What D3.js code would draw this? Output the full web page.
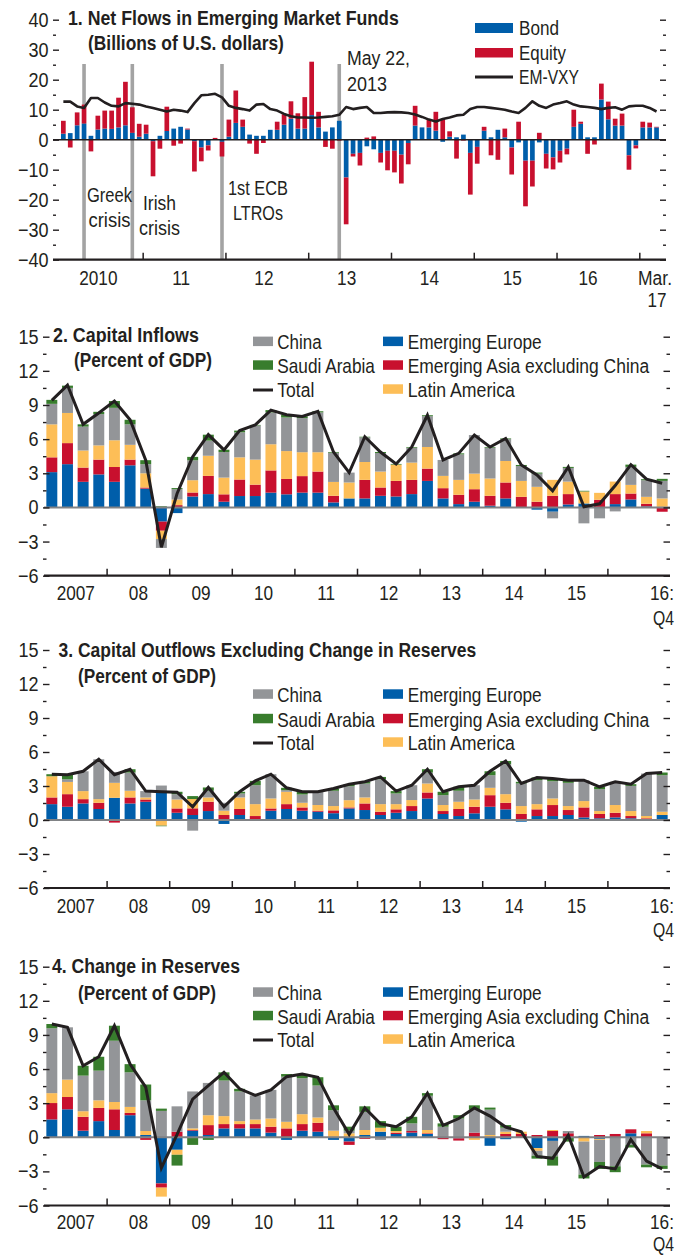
<!DOCTYPE html>
<html>
<head>
<meta charset="utf-8">
<script src="https://cdn.jsdelivr.net/npm/d3@7/dist/d3.min.js"></script>
<style>
html,body{margin:0;padding:0;background:#fff;}
svg{display:block;}
text{font-family:"Liberation Sans",Arial,Helvetica,sans-serif;fill:#231f20;}
</style>
</head>
<body>
<svg id="chart" width="683" height="1255" viewBox="0 0 683 1255"></svg>
<script>
// ================= DATA =================
// Panel 1: monthly flows, Jan 2010 - Mar 2017 (billions of U.S. dollars)
const fundMonths = d3.timeMonth.range(new Date(2010,0,1), new Date(2017,3,1)).map(d3.timeFormat("%Y-%m"));
const bondFlows = [2.0,2.2,4.8,5.4,1.3,3.4,3.7,3.6,4.1,4.8, 2.3,1.0,2.0,-0.5,1.3,2.9,3.7,4.3,3.4,-0.5,
  -2.6,-1.9,0,-0.7,1.0,5.6,4.3,1.7,1.3,1.3, 3.3,3.3,5.0,7.0,3.7,3.7,8.2,4.1,2.7,4.1,
  6.3,-12.6,-4.7,-4.4,-2.2,-3.2,-4.4,-3.7,-3.7,-5.0, -1.1,4.7,4.1,4.1,3.0,-0.7,1.0,0.8,1.7,-4.4,
  -2.4,3.0,0.8,3.3,0.8,-2.6,-0.9,-7.0,-7.0,-0.9, -4.7,-5.9,-3.7,-3.0,4.3,5.3,0.8,0.8,13.4,6.8,
  4.7,4.7,-5.2,-1.9,4.1,4.1,4.1];
const equityFlows = [4.3,-2.6,4.3,6.3,-3.9,4.6,6.0,6.1,9.9,14.5, 8.5,4.3,3.0,-11.7,-3.0,8.1,-2.0,-1.3,0.3,-10.1,
  -4.6,-1.7,0.6,-4.9,5.7,10.8,2.4,-1.3,-4.7,-1.1, 0,2.7,3.5,5.8,5.1,10.5,17.8,5.2,-2.4,-3.0,
  -0.3,-15.6,-0.9,-4.2,0.7,1.1,-3.2,-6.5,-7.2,-9.6, -7.1,6.6,0,2.8,6.3,6.9,1.8,-6.3,-0.3,-13.9,
  -5.6,1.3,-5.2,-6.7,2.9,-9.0,6.0,-15.2,-8.6,2.3, -4.9,-4.0,-3.9,-1.9,5.7,0.7,-4.7,-1.6,5.3,5.9,
  2.3,4.0,-4.8,-1.0,1.9,1.6,0.2];
const emVxy = [12.7,12.7,11.1,10.6,13.9,13.9,12.4,11.3,11.1,12.2, 12.0,11.7,11.1,10.6,10.0,9.4,10.0,9.7,9.2,12.2,
  14.8,15.0,15.3,14.1,11.3,10.6,10.2,9.7,11.7,11.9, 10.2,9.7,8.6,7.8,7.4,7.4,7.3,7.4,7.6,7.8,
  8.3,10.9,10.2,10.6,10.9,8.9,8.9,9.1,9.2,9.1, 8.9,8.4,7.6,6.7,6.1,6.9,7.4,8.1,8.3,10.2,
  10.9,10.9,10.6,10.3,10.0,9.4,8.9,10.6,12.8,11.3, 10.6,11.7,12.2,12.8,11.7,11.1,10.9,10.6,10.2,10.6,
  10.8,10.0,11.1,11.3,11.3,10.6,9.4];
const eventMonths = ["2010-04","2010-11","2011-12","2013-05"];
const eventLabels = [["Greek","crisis"],["Irish","crisis"],["1st ECB","LTROs"],["May 22,","2013"]];
const fundYearLabels = ["2010","11","12","13","14","15","16"];
const fundEndLabels = ["Mar.","17"];
const fundMajorTicks = [-40,-30,-20,-10,0,10,20,30,40];
const fundMinorTicks = [-35,-25,-15,-5,5,15,25,35];
const fundLegend = ["Bond","Equity","EM-VXY"];

// Panels 2-4: quarterly, 2007:Q1 - 2016:Q4 (percent of GDP)
const quarters = d3.range(2007,2017).flatMap(y => [1,2,3,4].map(q => y + "Q" + q));
const quarterYearLabels = ["2007","08","09","10","11","12","13","14","15"];
const quarterEndLabels = ["16:","Q4"];
const pctMajorTicks = [-6,-3,0,3,6,9,12,15];
const pctMinorTicks = [-4.5,-1.5,1.5,4.5,7.5,10.5,13.5];
const regionKeys = ["Emerging Europe","Emerging Asia excluding China","Latin America","China","Saudi Arabia"];

// 2. Capital inflows
const inflowsEurope = [3.1,3.8,2.25,2.9,2.25,3.7,1.65,-1.25,-0.5,0.96, 1.17,0.5,1.0,1.0,1.3,1.15,1.3,1.3,0.44,0.79,
  0.79,1.02,0.96,1.17,2.33,0.79,0.29,0.5,0.15,0.79, 0,-0.2,-0.38,0.26,0.35,0,0.29,0.7,0.09,0.05];
const inflowsAsia = [1.3,1.85,1.25,1.3,1.3,0.5,0.1,-0.8,0.2,0.35, 1.6,0.65,1.45,1.0,1.95,1.35,1.45,1.85,0.58,0,
  1.63,0.73,1.37,1.25,1.08,0.9,0.82,1.1,0.87,1.4, 0.93,0.5,1.02,0.91,0,0.67,0.88,0.52,0.23,-0.38];
const inflowsLatam = [2.9,2.65,1.5,1.25,2.35,1.3,1.25,-0.73,0.5,1.08, 1.77,1.47,1.95,2.2,2.3,2.45,2.1,1.7,1.22,1.4,
  1.57,1.4,1.43,1.52,1.9,1.08,1.31,1.37,1.52,1.89, 1.4,1.31,1.4,1.1,1.05,0.61,1.1,0.76,0.61,0.74];
const inflowsChina = [1.8,2.2,2.1,2.75,2.85,1.8,0.8,-0.78,0.9,1.75, 1.33,2.25,2.2,3.0,2.8,2.95,3.0,3.5,2.57,0.87,
  2.17,1.63,0,1.31,2.71,1.4,2.24,3.39,2.71,1.92, 1.31,1.16,-0.58,1.2,-1.4,-0.96,-0.35,1.58,1.46,1.54];
const inflowsSaudi = [0.35,0.2,0.2,0.2,0.6,0.4,0.35,0.1,0.1,0.3, 0.52,0.2,0.15,0.05,0.2,0.25,0.15,0.1,0.06,0,
  0.05,0.09,0.06,0.06,0.08,0,0.09,0,0.06,0.06, 0.09,0.09,0,0.09,0.06,0,0,0.2,0.09,0.18];
const inflowsTotal = [9.4,10.75,7.3,8.3,9.35,7.7,4.15,-3.5,1.2,4.45, 6.4,5.05,6.75,7.25,8.55,8.15,8.0,8.45,4.87,3.06,
  6.21,4.87,3.82,5.31,8.1,4.17,4.75,6.36,5.31,6.06, 3.73,2.86,1.46,3.56,0.06,0.32,1.92,3.76,2.48,2.13];

// 3. Capital outflows excluding change in reserves
const outflowsEurope = [1.4,1.17,1.46,0.97,1.96,1.46,1.61,2.49,0.64,0.44, 0.79,-0.35,0.44,0.06,0.82,0.97,0.82,0.73,0.6,1.02,
  0.88,0.44,0.64,0.79,1.9,0.53,0.35,0.59,1.17,0.94, -0.15,0.35,0.35,0.44,0.23,0.15,0.23,0.15,0.05,0.44];
const outflowsAsia = [0.59,1.11,0.38,0.55,-0.23,0.53,0.2,0,0.38,0.59, 0.82,0.44,0.53,0.29,0.2,0.43,0.29,0.09,0.25,0.09,
  0.58,0.29,0.3,0.44,0.53,0.26,0.62,0.58,1.02,0.58, 0.53,0.59,0.97,0.44,0.88,0.38,0.41,0.2,0.1,0];
const outflowsLatam = [1.87,1.08,0.71,0.32,1.32,0.59,0.18,-0.5,0.79,0.82, 0.38,0.38,1.02,1.05,0.88,1.09,0.41,0.5,0.38,0.64,
  0.53,0.67,0.46,0.53,0.79,0.53,0.64,0.64,0.65,0.76, 0.7,0.46,0.58,0.35,0.56,0.26,0.68,0.44,0.2,0.29];
const outflowsChina = [0,0.23,1.75,3.52,0.96,1.61,0.56,0.55,0.47,-0.94, 0.59,0.7,0.35,1.67,2.14,0.14,0.73,1.17,1.35,1.23,
  1.23,2.2,0.94,1.31,0.97,0.87,0.97,1.26,1.11,2.64, 1.99,2.11,1.52,2.05,1.84,1.93,2.05,2.22,3.75,3.22];
const outflowsSaudi = [0.18,0.41,0,0,0,0.29,0,-0.05,0.21,0.26, 0.29,0,0.15,0.38,0,0.21,0.24,0,0.2,0.17,
  0.15,0.2,0.21,0,0.29,0.3,0.35,0,0.35,0.29, 0.15,0.24,0.24,0.23,0,0.21,0,0.15,0,0.24];
const outflowsTotal = [4.04,4.0,4.3,5.36,4.0,4.48,2.55,2.5,2.45,1.17, 2.87,1.17,2.49,3.45,4.04,2.84,2.49,2.49,2.78,3.16,
  3.37,3.8,2.55,3.07,4.48,2.49,2.93,3.07,4.3,5.21, 3.22,3.75,3.66,3.51,3.51,2.93,3.37,3.16,4.1,4.19];

// 4. Change in reserves
const reservesEurope = [1.57,2.46,0.58,1.42,0.64,1.94,0.2,-4.06,-1.1,0.58, 0.2,0.78,0.78,0.78,0.41,-0.23,0.58,0.49,-0.23,-0.38,
  0.2,0.49,0.29,0.41,0.29,0,-0.09,0,-0.75,-0.17, 0,-0.96,-0.32,0,0.12,-0.14,0,0.35,0,0];
const reservesAsia = [1.44,1.08,1.22,1.16,1.82,0.2,-0.23,-0.37,0.49,0.06, 0.87,0.38,0.38,0.38,0.52,0.78,0.58,0.79,0,-0.29,
  -0.14,0,0.12,0.14,0.06,-0.17,-0.2,0.41,0,0.29, 0.29,0.2,0.55,0.35,0,0.2,0.29,0.35,0.35,0];
const reservesLatam = [0.87,1.53,0.49,0.67,0.64,0.53,0.35,-0.79,-0.44,0.14, 0.87,0.7,0.26,0.4,0.72,0.58,0.87,0.46,0.58,0.35,
  0.44,0.35,0.14,0,0.29,0,0,-0.23,0.2,0.2, 0.2,-0.23,0.09,0,-0.38,-0.09,0,0,0.2,0];
const reservesChina = [5.7,4.6,3.13,2.61,5.39,3.04,2.7,2.32,2.23,3.25, 2.84,3.13,2.61,2.12,2.52,3.97,3.16,2.81,1.8,0.23,
  1.59,-0.23,0,0.67,3.01,0.93,1.65,2.02,2.23,0.35, 0,-0.43,-1.36,0.2,-2.9,-1.94,-2.55,-0.67,-2.4,-2.49];
const reservesSaudi = [0.38,0,0.87,1.22,1.32,0.72,1.39,0.2,-0.95,-0.67, -0.23,0.72,0.23,0,0,0.23,0.38,0.73,0.43,0.35,
  0.49,0.58,0.38,0.58,0.23,0.29,0.29,0.38,0.18,0.23, 0,-0.26,-0.81,-0.38,-0.34,-0.61,-0.52,-0.23,-0.24,-0.29];
const reservesTotal = [9.96,9.67,6.29,7.08,9.81,6.43,4.41,-2.7,0.23,3.36, 4.55,5.71,4.26,3.68,4.17,5.33,5.57,5.28,2.58,0.26,
  2.58,1.19,0.93,1.8,3.88,1.05,1.65,2.58,1.86,0.9, 0.49,-1.68,-1.85,0.17,-3.5,-2.58,-2.78,-0.2,-2.09,-2.78];

// ================= STYLE =================
const INK = "#231f20";
const colors = {
  "Bond": "#005eaa", "Equity": "#c8102e",
  "Emerging Europe": "#005eaa", "Emerging Asia excluding China": "#c8102e",
  "Latin America": "#fdbe57", "China": "#939598", "Saudi Arabia": "#387d2d"
};

const svg = d3.select("#chart");

function label(parent, str, x, y, o) {
  o = o || {};
  const g = parent.append("g");
  const t = g.append("text").text(str)
    .attr("font-size", o.size || 21)
    .attr("font-weight", o.bold ? "bold" : "normal")
    .attr("text-anchor", o.anchor || "start");
  let sx = o.sx || (o.bold ? 0.84 : 0.82);
  if (o.width) {
    const w = t.node().getComputedTextLength();
    if (w > 0) sx = o.width / w;
  }
  g.attr("transform", `translate(${x},${y}) scale(${sx},1)`);
  return g;
}

function styleAxisText(g, size, sx) {
  g.attr("font-size", null).attr("font-family", null);
  g.selectAll("text").attr("font-size", size).attr("fill", INK)
    .attr("transform", `scale(${sx},1)`);
}

function yAxes(y, left, right, minorVals, majorVals, labelX, majorLen, minorLen) {
  const g = svg.append("g");
  [[minorVals, minorLen], [majorVals, majorLen]].forEach(([vals, len]) => {
    const a = g.append("g").attr("transform", `translate(${left},0)`)
      .call(d3.axisRight(y).tickValues(vals).tickSize(len).tickFormat(""));
    a.select(".domain").remove();
    a.selectAll("line").attr("stroke", INK).attr("stroke-width", 1.4);
    const b = g.append("g").attr("transform", `translate(${right},0)`)
      .call(d3.axisLeft(y).tickValues(vals).tickSize(len).tickFormat(""));
    b.select(".domain").remove();
    b.selectAll("line").attr("stroke", INK).attr("stroke-width", 1.4);
  });
  const lab = g.append("g").attr("transform", `translate(${labelX},0)`)
    .call(d3.axisLeft(y).tickValues(majorVals).tickSize(0).tickPadding(0).tickFormat(d3.format("d")));
  lab.select(".domain").remove();
  styleAxisText(lab, 20.5, 0.88);
}

function xAxis(xt, yPos, left, right, tickVals, labelVals, labels, labelY) {
  const g = svg.append("g");
  const a = g.append("g").attr("transform", `translate(0,${yPos})`)
    .call(d3.axisTop(xt).tickValues(tickVals).tickSize(7).tickFormat(""));
  a.select(".domain").remove();
  a.selectAll("line").attr("stroke", INK).attr("stroke-width", 1.5);
  g.append("line").attr("x1", left).attr("x2", right).attr("y1", yPos).attr("y2", yPos)
    .attr("stroke", INK).attr("stroke-width", 2.2);
  const l = g.append("g").attr("transform", `translate(0,${labelY})`)
    .call(d3.axisBottom(xt).tickValues(labelVals).tickSize(0).tickPadding(0).tickFormat((d, i) => labels[i]));
  l.select(".domain").remove();
  l.selectAll("text").attr("dy", 0).attr("y", 0);
  styleAxisText(l, 21, 0.82);
}

function drawStack(table, keys, x, y) {
  const series = d3.stack().keys(keys).offset(d3.stackOffsetDiverging)(table);
  svg.append("g").selectAll("g").data(series).join("g")
    .attr("fill", s => colors[s.key])
    .selectAll("rect").data(s => s).join("rect")
    .attr("x", d => x(d.data.cat))
    .attr("width", x.bandwidth())
    .attr("y", d => y(Math.max(d[0], d[1])))
    .attr("height", d => Math.abs(y(d[0]) - y(d[1])));
}

// ================= PANEL 1 =================
(function () {
  const L = 53, R = 666;
  const x = d3.scaleBand().domain(fundMonths).range([59.9, 660]).paddingInner(0.32).paddingOuter(0.16);
  const xt = d3.scaleLinear().domain([0, fundMonths.length]).range([59.9, 660]);
  const y = d3.scaleLinear().domain([-40, 40]).range([259.7, 19.7]);
  const bw = x.bandwidth();

  svg.append("g").selectAll("line").data(eventMonths).join("line")
    .attr("x1", d => x(d) + bw / 2).attr("x2", d => x(d) + bw / 2)
    .attr("y1", 64).attr("y2", y(-40))
    .attr("stroke", "#a3a3a3").attr("stroke-width", 3.6);

  const table = fundMonths.map((m, i) => ({ cat: m, Bond: bondFlows[i], Equity: equityFlows[i] }));
  drawStack(table, ["Bond", "Equity"], x, y);

  svg.append("line").attr("x1", L).attr("x2", R).attr("y1", y(0)).attr("y2", y(0))
    .attr("stroke", INK).attr("stroke-width", 1.5);

  svg.append("path").datum(emVxy)
    .attr("fill", "none").attr("stroke", INK).attr("stroke-width", 2.6).attr("stroke-linejoin", "round")
    .attr("d", d3.line().x((d, i) => x(fundMonths[i]) + bw / 2).y(d => y(d)));

  yAxes(y, L, R, fundMinorTicks, fundMajorTicks, 48.5, 6, 3);
  xAxis(xt, y(-40), L, R, [12, 24, 36, 48, 60, 72, 84], [5.5, 17.5, 29.5, 41.5, 53.5, 65.5, 76.5], fundYearLabels, 285);
  label(svg, fundEndLabels[0], 672, 285, { anchor: "end", width: 34 });
  label(svg, fundEndLabels[1], 657, 307, { anchor: "middle", width: 19 });

  const ev = [
    { x: 109.5, ys: [202, 227], w: [45, 42], a: "middle" },
    { x: 159.5, ys: [210, 235], w: [33, 41], a: "middle" },
    { x: 258, ys: [195, 220], w: [60, 50], a: "middle" },
    { x: 347, ys: [65, 91], w: [63, 40], a: "start" }
  ];
  eventLabels.forEach((lines, k) => {
    lines.forEach((s, j) => label(svg, s, ev[k].x, ev[k].ys[j], { anchor: ev[k].a, width: ev[k].w[j] }));
  });

  label(svg, "1. Net Flows in Emerging Market Funds", 68, 25, { bold: true, width: 331 });
  label(svg, "(Billions of U.S. dollars)", 88, 50, { bold: true, width: 196 });

  svg.append("rect").attr("x", 475).attr("y", 23).attr("width", 38).attr("height", 10).attr("fill", colors.Bond);
  svg.append("rect").attr("x", 475).attr("y", 48).attr("width", 38).attr("height", 9.5).attr("fill", colors.Equity);
  svg.append("line").attr("x1", 475).attr("x2", 513).attr("y1", 77).attr("y2", 77).attr("stroke", INK).attr("stroke-width", 3);
  label(svg, fundLegend[0], 519, 35, { width: 40 });
  label(svg, fundLegend[1], 519, 59.5, { width: 47 });
  label(svg, fundLegend[2], 519, 84, { width: 60 });
})();

// ================= PANELS 2-4 =================
function percentPanel(cfg) {
  const L = 44, R = 670;
  const x = d3.scaleBand().domain(quarters).range([L, R]).paddingInner(0.3).paddingOuter(0.15);
  const xt = d3.scaleLinear().domain([0, quarters.length]).range([L, R]);
  const y = d3.scaleLinear().domain([-6, 15]).range([cfg.yBottom, cfg.yTop]);
  const bw = x.bandwidth();

  const table = quarters.map((q, i) => {
    const row = { cat: q };
    regionKeys.forEach((k, j) => row[k] = cfg.series[j][i]);
    return row;
  });
  drawStack(table, regionKeys, x, y);

  svg.append("line").attr("x1", L).attr("x2", R).attr("y1", y(0)).attr("y2", y(0))
    .attr("stroke", "#808285").attr("stroke-width", 2);

  svg.append("path").datum(cfg.total)
    .attr("fill", "none").attr("stroke", INK).attr("stroke-width", 3).attr("stroke-linejoin", "miter")
    .attr("d", d3.line().x((d, i) => x(quarters[i]) + bw / 2).y(d => y(d)));

  yAxes(y, 43, R, pctMinorTicks, pctMajorTicks, 38.5, 6.5, 3.5);
  xAxis(xt, cfg.yBottom, L, R, [4, 8, 12, 16, 20, 24, 28, 32, 36], [2, 6, 10, 14, 18, 22, 26, 30, 34], quarterYearLabels, cfg.labelY);
  label(svg, quarterEndLabels[0], 674, cfg.labelY, { anchor: "end", width: 24 });
  label(svg, quarterEndLabels[1], 674, cfg.q4Y, { anchor: "end", width: 21 });

  label(svg, cfg.title, cfg.titleX, cfg.titleY, { bold: true, width: cfg.titleW });
  label(svg, "(Percent of GDP)", cfg.subX, cfg.subY, { bold: true, width: 138 });

  const lg = svg.append("g");
  const b = cfg.legendY;
  const col1 = [["China", "rect"], ["Saudi Arabia", "rect"], ["Total", "line"]];
  const col2 = ["Emerging Europe", "Emerging Asia excluding China", "Latin America"];
  const widths = { "China": 44.3, "Saudi Arabia": 97.7, "Total": 37, "Emerging Europe": 134,
    "Emerging Asia excluding China": 241.7, "Latin America": 107.3 };
  col1.forEach(([name, kind], r) => {
    if (kind === "rect") {
      lg.append("rect").attr("x", 253).attr("y", b[r] - 12.7).attr("width", 20).attr("height", 9.5).attr("fill", colors[name]);
    } else {
      lg.append("line").attr("x1", 253).attr("x2", 273).attr("y1", b[r] - 7).attr("y2", b[r] - 7)
        .attr("stroke", INK).attr("stroke-width", 3);
    }
    label(lg, name, 277.3, b[r], { width: widths[name] });
  });
  col2.forEach((name, r) => {
    lg.append("rect").attr("x", 383).attr("y", b[r] - 12.7).attr("width", 20).attr("height", 9.5).attr("fill", colors[name]);
    label(lg, name, 407.7, b[r], { width: widths[name] });
  });
}

percentPanel({
  yTop: 336.7, yBottom: 575.7, labelY: 600, q4Y: 625,
  title: "2. Capital Inflows", titleX: 53, titleY: 342, titleW: 146,
  subX: 74, subY: 366.5, legendY: [349.3, 373, 397],
  series: [inflowsEurope, inflowsAsia, inflowsLatam, inflowsChina, inflowsSaudi], total: inflowsTotal
});
percentPanel({
  yTop: 650, yBottom: 888, labelY: 913, q4Y: 937,
  title: "3. Capital Outflows Excluding Change in Reserves", titleX: 58.5, titleY: 657, titleW: 418,
  subX: 78, subY: 683, legendY: [702, 726.5, 750],
  series: [outflowsEurope, outflowsAsia, outflowsLatam, outflowsChina, outflowsSaudi], total: outflowsTotal
});
percentPanel({
  yTop: 966.7, yBottom: 1205.5, labelY: 1229, q4Y: 1251,
  title: "4. Change in Reserves", titleX: 52, titleY: 973, titleW: 188,
  subX: 78, subY: 1000, legendY: [1000, 1023.5, 1047],
  series: [reservesEurope, reservesAsia, reservesLatam, reservesChina, reservesSaudi], total: reservesTotal
});
</script>
</body>
</html>
